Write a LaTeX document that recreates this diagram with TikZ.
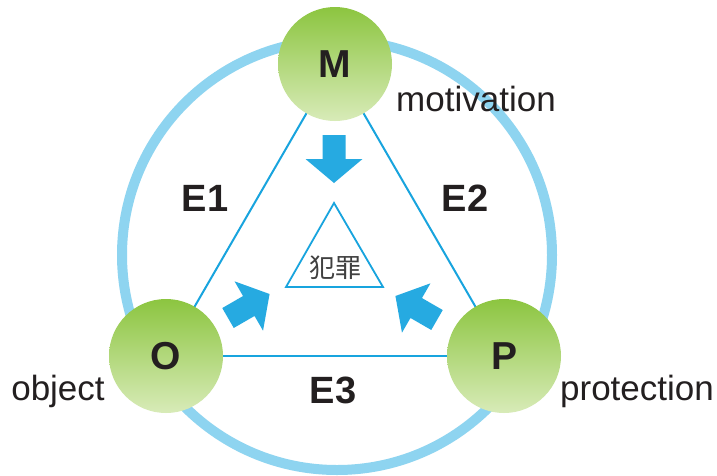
\documentclass[tikz,border=0pt]{standalone}
\usepackage{fontspec}
\setmainfont{Liberation Sans}
\newfontfamily\cjk{Noto Sans CJK SC}
\definecolor{ringblue}{RGB}{142,212,240}
\definecolor{lineblue}{RGB}{24,164,222}
\definecolor{arrowblue}{RGB}{38,170,225}
\definecolor{gtop}{RGB}{140,197,64}
\definecolor{gbot}{RGB}{216,235,184}
\definecolor{txt}{RGB}{35,31,32}
\tikzset{
  ball/.style={circle, minimum size=114pt, inner sep=0pt, top color=gtop, bottom color=gbot, draw=none,
    font=\fontsize{39}{39}\selectfont\bfseries, text=txt},
  elabel/.style={font=\fontsize{38}{38}\selectfont\bfseries, text=txt, inner sep=0pt},
  wlabel/.style={font=\fontsize{35}{35}\selectfont, text=txt, inner sep=0pt},
  edge/.style={draw=lineblue, line width=2pt},
  fatarrow/.pic={\fill[arrowblue] (0,-11.5) -- (24,-11.5) -- (24,-28.5) -- (48,0) -- (24,28.5) -- (24,11.5) -- (0,11.5) -- cycle;}
}
\begin{document}
\begin{tikzpicture}[x=1pt,y=-1pt]
\useasboundingbox (0,0) rectangle (717,475);
\fill[white] (0,0) rectangle (717,475);
% ring
\coordinate (ringc) at (337,255);
\draw[ringblue, line width=10pt] (ringc) circle[radius=215];
% centers
\coordinate (mc) at (335,64);
\coordinate (oc) at (166,356);
\coordinate (pc) at (504,356);
% edges
\draw[edge] (mc) -- (oc);
\draw[edge] (mc) -- (pc);
\draw[edge] (oc) -- (pc);
% balls
\node[ball] (M) at (mc) {M};
\node[ball] (O) at (oc) {O};
\node[ball] (P) at (pc) {P};
% labels
\node[wlabel] (mot) at (476,99) {motivation};
\node[wlabel] (obj) at (58,391) {object};
\node[wlabel] (pro) at (637,391) {protection};
\node[elabel] (E1) at (205,198) {E1};
\node[elabel] (E2) at (465,198) {E2};
\node[elabel] (E3) at (333,390) {E3};
% inner triangle
\coordinate (ta) at (334,203);
\coordinate (tl) at (286,287);
\coordinate (tr) at (383,287);
\draw[lineblue, line width=1.8pt, line join=miter] (ta) -- (tl) -- (tr) -- cycle;
\node[font=\cjk\fontsize{26}{26}\selectfont, text=black!75, inner sep=0pt] (crime) at (335,268) {犯罪};
% arrows
\pic[rotate=-90] at (334,135) {fatarrow};
\pic[rotate=30] at (228,318) {fatarrow};
\pic[rotate=150] at (437,320) {fatarrow};
\end{tikzpicture}
\end{document}
